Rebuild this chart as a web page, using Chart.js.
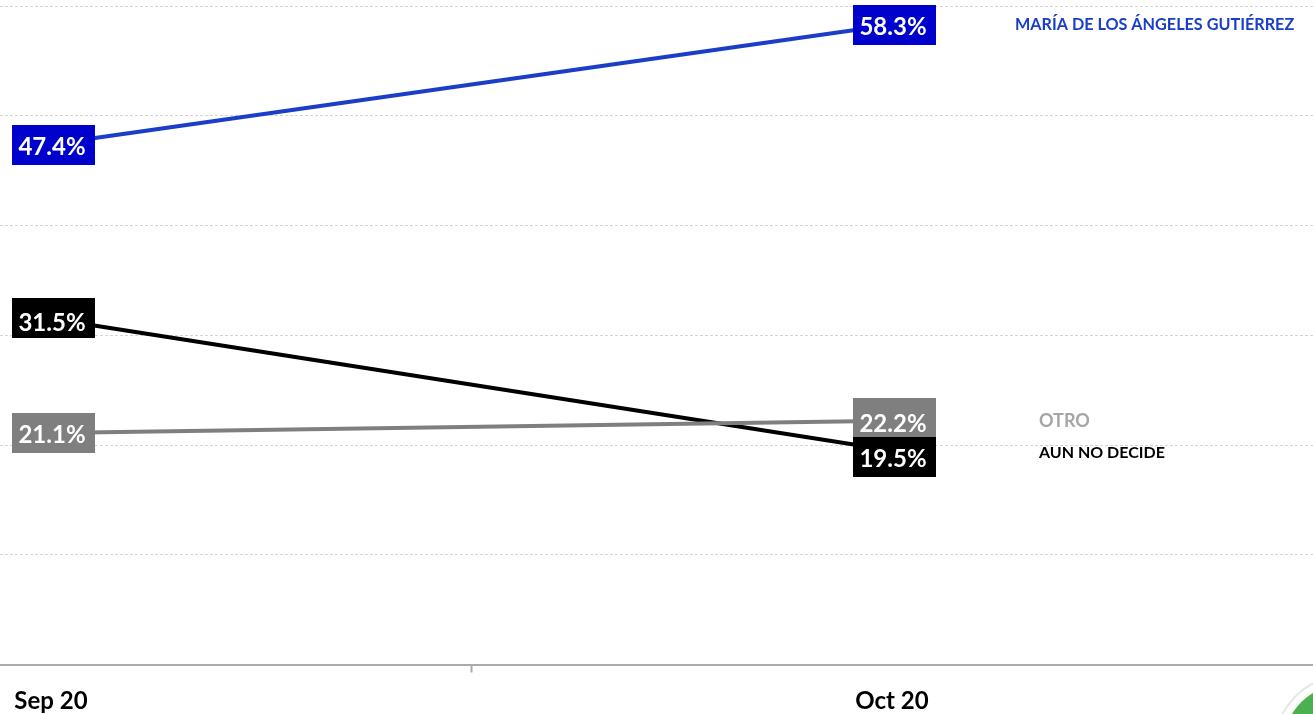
<!DOCTYPE html>
<html lang="es">
<head>
<meta charset="utf-8">
<title>Sep 20 - Oct 20</title>
<style>
    html, body { margin: 0; padding: 0; background: #fff; overflow: hidden; }
    #wrap { position: relative; width: 1313px; height: 714px; overflow: hidden; }
    #chart { display: block; }
    /* logo cut off by the corner of the screenshot */
    #logo { position: absolute; left: 1274px; top: 675px; width: 138px; height: 138px; border: 2px solid #e6e6e6; border-radius: 50%; background: #fff; }
    #logo i { position: absolute; left: 7px; top: 7px; width: 124px; height: 124px; border-radius: 50%; background: #4caf50; }
</style>
</head>
<body>
<div id="wrap">
    <canvas id="chart" width="1313" height="714"></canvas>
    <div id="logo"><i></i></div>
</div>
<script src="https://cdn.jsdelivr.net/npm/chart.js@4/dist/chart.umd.min.js"></script>
<script>
    // Data
    const months = ['Sep 20', 'Oct 20'];
    const names = ['MARÍA DE LOS ÁNGELES GUTIÉRREZ', 'OTRO', 'AUN NO DECIDE'];
    const maria = [47.4, 58.3];
    const otro = [21.1, 22.2];
    const aunNoDecide = [31.5, 19.5];
    const yTicks = [0, 10, 20, 30, 40, 50, 60];

    const FONT = 'Lato, "Open Sans", sans-serif';

    const toPoints = (values) => values.map((v, i) => ({ x: i, y: v }));

    // Value boxes on the line ends + series names on the right
    const endLabels = {
        id: 'endLabels',
        afterDatasetsDraw(chart) {
            const ctx = chart.ctx;
            chart.data.datasets.forEach((ds, d) => {
                const meta = chart.getDatasetMeta(d);
                meta.data.forEach((pt, i) => {
                    const cy = Math.round(pt.y + ds.boxNudge[i]);
                    ctx.save();
                    ctx.fillStyle = ds.boxColor;
                    ctx.fillRect(Math.round(pt.x) - 39, cy - 20, 83, 40);
                    ctx.fillStyle = '#fff';
                    ctx.font = 'bold 24px ' + FONT;
                    ctx.textAlign = 'center';
                    ctx.textBaseline = 'middle';
                    ctx.fillText(ds.data[i].y.toFixed(1) + '%', Math.round(pt.x) + 1, cy + ds.textNudge[i]);
                    ctx.restore();
                });
                const last = meta.data[meta.data.length - 1];
                ctx.save();
                ctx.fillStyle = ds.nameColor;
                ctx.font = 'bold ' + ds.nameSize + 'px ' + FONT;
                ctx.textAlign = 'left';
                ctx.textBaseline = 'middle';
                ctx.fillText(ds.label, ds.nameX, last.y + ds.nameNudge);
                ctx.restore();
            });
        }
    };

    new Chart(document.getElementById('chart'), {
        type: 'line',
        plugins: [endLabels],
        data: {
            datasets: [
                {
                    label: names[0], data: toPoints(maria),
                    borderColor: '#1a3ec8', boxColor: '#0000cc', nameColor: '#1a3ec8',
                    boxNudge: [1, 0], textNudge: [2, 2], nameX: 1015, nameSize: 16.2, nameNudge: 0
                },
                {
                    label: names[1], data: toPoints(otro),
                    borderColor: '#7f7f7f', boxColor: '#7f7f7f', nameColor: '#a6a6a6',
                    boxNudge: [0, -3], textNudge: [2, 6], nameX: 1039, nameSize: 18, nameNudge: 0
                },
                {
                    label: names[2], data: toPoints(aunNoDecide),
                    borderColor: '#000000', boxColor: '#000000', nameColor: '#000000',
                    boxNudge: [-1, 7], textNudge: [5, 2], nameX: 1039, nameSize: 16, nameNudge: 2
                }
            ]
        },
        options: {
            responsive: false,
            animation: false,
            layout: { padding: { top: 6, left: 0, right: 0, bottom: 0 } },
            elements: {
                line: { borderWidth: 4, tension: 0, borderCapStyle: 'butt' },
                point: { radius: 0 }
            },
            plugins: { legend: { display: false }, tooltip: { enabled: false } },
            scales: {
                x: {
                    type: 'linear',
                    min: -0.0606,
                    max: 1.5006,
                    afterBuildTicks: (scale) => { scale.ticks = [{ value: 0 }, { value: 0.5 }, { value: 1 }]; },
                    afterFit: (scale) => { scale.height = 49.5; },
                    border: { color: '#ababab', width: 2 },
                    grid: {
                        drawOnChartArea: false,
                        tickLength: 8,
                        tickWidth: 2,
                        tickColor: (c) => (c.tick && c.tick.value === 0.5 ? '#ababab' : 'rgba(0,0,0,0)')
                    },
                    ticks: {
                        autoSkip: false,
                        maxRotation: 0,
                        padding: 14,
                        color: '#000',
                        font: { family: FONT, weight: 'bold', size: 24 },
                        callback: (value) => months[value] || ''
                    }
                },
                y: {
                    min: yTicks[0],
                    max: yTicks[yTicks.length - 1],
                    afterBuildTicks: (scale) => { scale.ticks = yTicks.map((v) => ({ value: v })); },
                    afterFit: (scale) => { scale.width = 0; },
                    border: { display: false, dash: [3, 2] },
                    grid: {
                        color: (c) => (c.tick && c.tick.value === 0 ? 'rgba(0,0,0,0)' : '#d4d4d4'),
                        lineWidth: 1,
                        drawTicks: false
                    },
                    ticks: { display: false }
                }
            }
        }
    });
</script>
</body>
</html>
